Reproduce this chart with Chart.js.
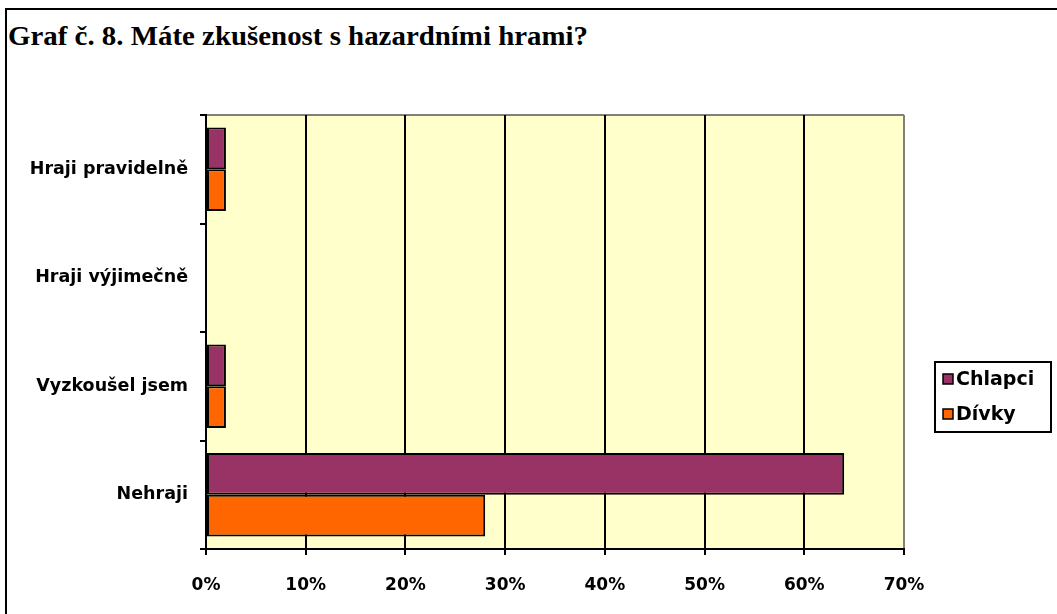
<!DOCTYPE html>
<html>
<head>
<meta charset="utf-8">
<script src="https://cdn.jsdelivr.net/npm/chart.js@4"></script>
<style>
  html, body { margin: 0; padding: 0; background: #fff; overflow: hidden; }
  #wrap { position: relative; width: 1057px; height: 614px; }
  #frame {
    position: absolute; left: 5px; top: 8px; width: 1200px; height: 800px;
    border-left: 2px solid #000; border-top: 2px solid #000;
  }
  #title {
    position: absolute; left: 8px; top: 23px; white-space: nowrap;
    font-family: "Liberation Serif", "Times New Roman", serif;
    font-weight: bold; font-size: 27px; line-height: 27px;
    transform-origin: 0 0;
  }
  #chart { position: absolute; left: 0; top: 0; }
</style>
</head>
<body>
<div id="wrap">
  <div id="frame"></div>
  <div id="title">Graf č. 8. Máte zkušenost s hazardními hrami?</div>
  <canvas id="chart" width="1057" height="614"></canvas>
</div>
<script>
/* =========================
   DATA
========================= */

const categories = ["Hraji pravidelně", "Hraji výjimečně", "Vyzkoušel jsem", "Nehraji"];
const seriesNames = ["Chlapci", "Dívky"];
const chlapci = [2, 0, 2, 64];
const divky = [2, 0, 2, 28];
const xTickValues = [0, 10, 20, 30, 40, 50, 60, 70];

const colors = ["#993366", "#FF6600"];


/* =========================
   TITLE (old Excel text is wide, stretch it to the same width)
========================= */

const titleEl = document.getElementById("title");
const titleWidth = 580;
titleEl.style.transform = `scaleX(${titleWidth / titleEl.getBoundingClientRect().width})`;


/* =========================
   PLUGINS
========================= */

// yellow plot area + gray top edge
const plotBg = {
  id: "plotBg",
  beforeDraw(chart) {
    const { ctx, chartArea: a } = chart;
    ctx.save();
    ctx.fillStyle = "#FFFFCC";
    ctx.fillRect(a.left, a.top, a.right - a.left, a.bottom - a.top);
    ctx.strokeStyle = "#808080";
    ctx.lineWidth = 2;
    ctx.beginPath();
    ctx.moveTo(a.left, a.top);
    ctx.lineTo(a.right, a.top);
    ctx.stroke();
    ctx.restore();
  }
};

// boxed legend on the right, drawn by hand
const boxLegend = {
  id: "boxLegend",
  afterDraw(chart) {
    const { ctx } = chart;
    const box = { x: 935, y: 362, w: 116, h: 70 };
    ctx.save();
    ctx.fillStyle = "#fff";
    ctx.fillRect(box.x, box.y, box.w, box.h);
    ctx.strokeStyle = "#000";
    ctx.lineWidth = 2;
    ctx.strokeRect(box.x, box.y, box.w, box.h);

    ctx.font = 'bold 19px "DejaVu Sans"';
    ctx.textBaseline = "middle";
    chart.data.datasets.forEach((ds, i) => {
      const cy = box.y + 17 + i * 35;
      ctx.fillStyle = ds.backgroundColor;
      ctx.fillRect(box.x + 8, cy - 5, 10, 10);
      ctx.lineWidth = 1.5;
      ctx.strokeRect(box.x + 8, cy - 5, 10, 10);
      ctx.fillStyle = "#000";
      ctx.fillText(ds.label, box.x + 21, cy + 1);
    });
    ctx.restore();
  }
};


/* =========================
   CHART
========================= */

Chart.defaults.font.family = '"DejaVu Sans", sans-serif';
Chart.defaults.font.size = 17;
Chart.defaults.font.weight = "bold";
Chart.defaults.color = "#000";

new Chart(document.getElementById("chart"), {
  type: "bar",
  data: {
    labels: categories,
    datasets: [
      { label: seriesNames[0], data: chlapci, backgroundColor: colors[0] },
      { label: seriesNames[1], data: divky, backgroundColor: colors[1] }
    ]
  },
  options: {
    indexAxis: "y",
    responsive: false,
    animation: false,
    devicePixelRatio: 1,
    layout: { padding: { top: 115, right: 153, left: 0, bottom: 0 } },
    datasets: {
      bar: {
        borderColor: "#000",
        borderWidth: 2,
        borderSkipped: false,
        categoryPercentage: 0.77,
        barPercentage: 1
      }
    },
    plugins: {
      legend: { display: false },
      tooltip: { enabled: false }
    },
    scales: {
      x: {
        min: 0,
        max: 70,
        afterFit: s => { s.height = 65; },
        afterBuildTicks: s => { s.ticks = xTickValues.map(v => ({ value: v })); },
        ticks: { padding: 20, callback: v => v + "%" },
        grid: {
          color: c => (c.index === xTickValues.length - 1 ? "#808080" : "#000"),
          tickColor: "#000",
          lineWidth: 2,
          tickLength: 6
        },
        border: { color: "#000", width: 2 }
      },
      y: {
        afterFit: s => { s.width = 206; },
        ticks: { padding: 12, font: { size: 17.5 } },
        grid: {
          drawOnChartArea: false,
          offset: true,
          color: "#000",
          lineWidth: 2,
          tickLength: 6
        },
        border: { color: "#000", width: 2 }
      }
    }
  },
  plugins: [plotBg, boxLegend]
});
</script>
</body>
</html>
